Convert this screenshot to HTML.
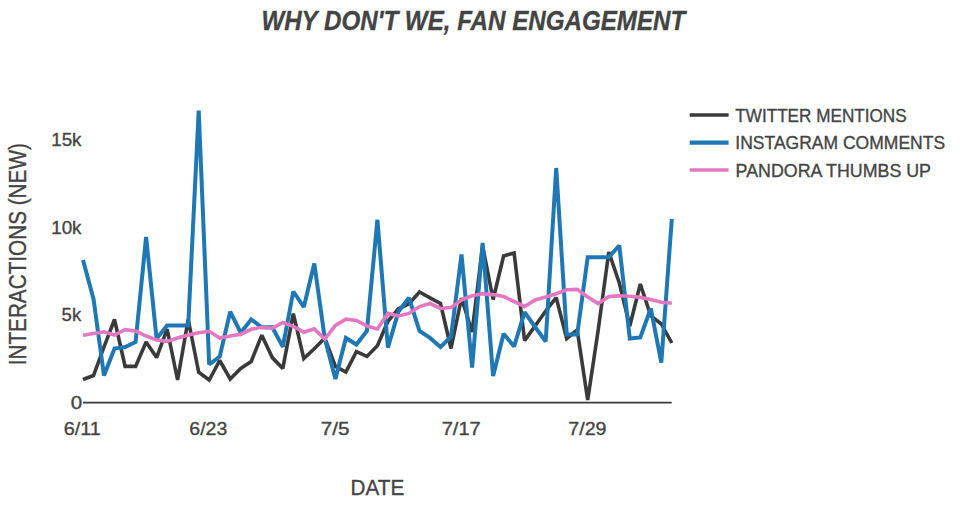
<!DOCTYPE html>
<html><head><meta charset="utf-8"><title>Why Don't We, Fan Engagement</title>
<style>
html,body{margin:0;padding:0;background:#fff;}
body{width:960px;height:512px;overflow:hidden;}
svg{display:block;}
text{font-family:"Liberation Sans", sans-serif;fill:#444;stroke:#444;stroke-width:0.35px;}
</style></head><body>
<svg width="960" height="512" viewBox="0 0 960 512">
<rect width="960" height="512" fill="#fff"/>
<text x="261.4" y="29.7" font-size="27.3" font-weight="bold" font-style="italic" textLength="423.8" lengthAdjust="spacingAndGlyphs">WHY DON'T WE, FAN ENGAGEMENT</text>
<g font-size="18.5" lengthAdjust="spacingAndGlyphs">
<text x="51.2" y="145.8" textLength="30.35" lengthAdjust="spacingAndGlyphs">15k</text>
<text x="51.2" y="234.1" textLength="30.35" lengthAdjust="spacingAndGlyphs">10k</text>
<text x="61.6" y="321.1" textLength="19.55" lengthAdjust="spacingAndGlyphs">5k</text>
<text x="70.7" y="409.3" textLength="11.44" lengthAdjust="spacingAndGlyphs">0</text>
<text x="63.7" y="434.9" textLength="37.06" lengthAdjust="spacingAndGlyphs">6/11</text>
<text x="189.3" y="434.9" textLength="37.94" lengthAdjust="spacingAndGlyphs">6/23</text>
<text x="320.7" y="434.9" textLength="28.74" lengthAdjust="spacingAndGlyphs">7/5</text>
<text x="441.7" y="434.9" textLength="39.1" lengthAdjust="spacingAndGlyphs">7/17</text>
<text x="568.3" y="434.9" textLength="38.25" lengthAdjust="spacingAndGlyphs">7/29</text>
</g>
<text x="350.6" y="494.6" font-size="22.3" textLength="53.6" lengthAdjust="spacingAndGlyphs">DATE</text>
<text transform="translate(26,365.3) rotate(-90)" font-size="23" textLength="222.15" lengthAdjust="spacingAndGlyphs">INTERACTIONS (NEW)</text>
<line x1="83" y1="402.6" x2="671.7" y2="402.6" stroke="#3a3a3a" stroke-width="1.8"/>
<g fill="none" stroke-linejoin="miter" stroke-miterlimit="2">
<path d="M83.0,379.5L93.5,375.5L104.0,347.0L114.5,319.5L125.1,366.4L135.6,366.4L146.1,342.0L156.6,357.6L167.1,329.0L177.6,380.0L188.2,319.5L198.7,372.3L209.2,380.0L219.7,360.5L230.2,379.0L240.7,368.4L251.2,361.5L261.8,335.2L272.3,357.6L282.8,368.4L293.3,313.7L303.8,358.6L314.3,348.8L324.8,338.0L335.4,366.4L345.9,372.0L356.4,351.5L366.9,356.4L377.4,345.7L387.9,321.3L398.5,308.6L409.0,303.7L419.5,292.0L430.0,297.8L440.5,303.5L451.0,348.5L461.5,298.0L472.1,332.0L482.6,246.0L493.1,299.5L503.6,256.0L514.1,253.0L524.6,340.6L535.1,326.0L545.7,311.0L556.2,297.6L566.7,338.5L577.2,330.0L587.7,400.0L598.2,330.0L608.8,252.0L619.3,283.0L629.8,326.0L640.3,284.0L650.8,316.0L661.3,324.0L671.8,343.0" stroke="#3a3a3a" stroke-width="3.6"/>
<path d="M83.0,260.0L93.5,299.0L104.0,375.5L114.5,348.6L125.1,347.0L135.6,342.0L146.1,237.0L156.6,338.8L167.1,325.4L177.6,325.4L188.2,325.4L198.7,110.7L209.2,364.5L219.7,356.6L230.2,311.7L240.7,332.7L251.2,319.5L261.8,327.3L272.3,327.3L282.8,346.9L293.3,291.5L303.8,307.0L314.3,263.5L324.8,338.5L335.4,379.0L345.9,338.0L356.4,344.5L366.9,331.0L377.4,219.8L387.9,347.6L398.5,311.5L409.0,297.8L419.5,331.0L430.0,337.9L440.5,347.0L451.0,336.7L461.5,254.5L472.1,367.5L482.6,243.0L493.1,376.0L503.6,333.7L514.1,346.4L524.6,312.2L535.1,327.0L545.7,341.5L556.2,168.0L566.7,334.5L577.2,334.5L587.7,257.2L598.2,257.2L608.8,257.2L619.3,245.5L629.8,338.5L640.3,337.5L650.8,308.4L661.3,362.7L671.8,219.0" stroke="#1f77b4" stroke-width="4"/>
<path d="M83.0,335.2L93.5,333.5L104.0,331.8L114.5,335.0L125.1,329.7L135.6,330.9L146.1,336.0L156.6,340.0L167.1,341.4L177.6,338.0L188.2,335.0L198.7,332.8L209.2,331.3L219.7,338.0L230.2,336.1L240.7,334.2L251.2,329.3L261.8,327.3L272.3,328.3L282.8,322.5L293.3,326.4L303.8,332.2L314.3,328.9L324.8,339.1L335.4,325.4L345.9,319.1L356.4,320.5L366.9,326.1L377.4,329.0L387.9,313.4L398.5,316.0L409.0,313.4L419.5,306.6L430.0,303.5L440.5,308.5L451.0,307.5L461.5,300.0L472.1,295.8L482.6,293.7L493.1,294.6L503.6,296.6L514.1,301.5L524.6,306.5L535.1,300.0L545.7,297.0L556.2,293.7L566.7,289.8L577.2,289.4L587.7,297.0L598.2,303.5L608.8,296.6L619.3,295.7L629.8,296.2L640.3,297.4L650.8,299.4L661.3,302.3L671.8,303.3" stroke="#e377c2" stroke-width="3.6"/>
</g>
<!-- legend -->
<g>
<line x1="689.7" y1="115" x2="728.6" y2="115" stroke="#3a3a3a" stroke-width="3.7"/>
<line x1="689.7" y1="142.7" x2="728.6" y2="142.7" stroke="#1f77b4" stroke-width="4.2"/>
<line x1="689.7" y1="170" x2="728.6" y2="170" stroke="#e377c2" stroke-width="3.6"/>
</g>
<g font-size="18.5">
<text x="735.3" y="122" textLength="171.31" lengthAdjust="spacingAndGlyphs">TWITTER MENTIONS</text>
<text x="735.3" y="149.4" textLength="209.83" lengthAdjust="spacingAndGlyphs">INSTAGRAM COMMENTS</text>
<text x="735.6" y="177.2" textLength="195.39" lengthAdjust="spacingAndGlyphs">PANDORA THUMBS UP</text>
</g>
</svg>
</body></html>
